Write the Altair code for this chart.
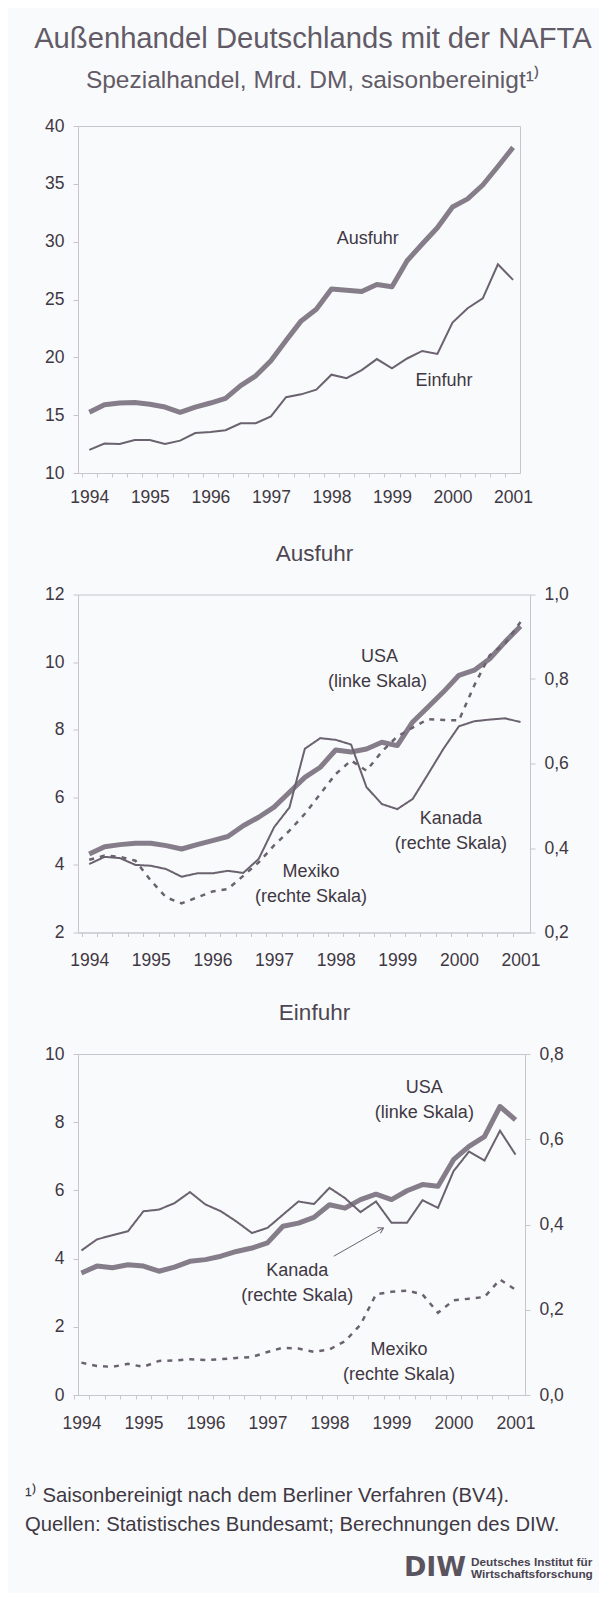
import altair as alt
import pandas as pd

# ---------------- data ----------------
# quarterly observations 1994 Q1 ... 2001 Q1 (decimal years)
quarters = [1994.0, 1994.25, 1994.5, 1994.75,
            1995.0, 1995.25, 1995.5, 1995.75,
            1996.0, 1996.25, 1996.5, 1996.75,
            1997.0, 1997.25, 1997.5, 1997.75,
            1998.0, 1998.25, 1998.5, 1998.75,
            1999.0, 1999.25, 1999.5, 1999.75,
            2000.0, 2000.25, 2000.5, 2000.75,
            2001.0]

# Panel 1: NAFTA total, Mrd. DM
nafta_ausfuhr = [15.25, 15.9, 16.05, 16.1, 15.95, 15.7, 15.25, 15.7, 16.05, 16.45,
                 17.55, 18.4, 19.7, 21.45, 23.15, 24.15, 25.9, 25.8, 25.7, 26.3,
                 26.1, 28.35, 29.8, 31.2, 33.0, 33.7, 34.9, 36.5, 38.15]
nafta_einfuhr = [12.0, 12.55, 12.5, 12.85, 12.85, 12.5, 12.8, 13.45, 13.55, 13.7,
                 14.3, 14.3, 14.9, 16.55, 16.8, 17.2, 18.5, 18.2, 18.9, 19.85,
                 19.05, 19.9, 20.55, 20.3, 23.0, 24.25, 25.1, 28.05, 26.7]

# Panel 2: Ausfuhr by country
ausfuhr_usa = [4.32, 4.54, 4.60, 4.64, 4.64, 4.57, 4.47, 4.60, 4.72, 4.84,
               5.16, 5.41, 5.71, 6.15, 6.59, 6.89, 7.40, 7.34, 7.43, 7.63,
               7.53, 8.23, 8.67, 9.12, 9.61, 9.76, 10.10, 10.60, 11.06]
ausfuhr_kanada = [0.362, 0.379, 0.376, 0.360, 0.358, 0.350, 0.332, 0.340, 0.340, 0.346,
                  0.341, 0.374, 0.449, 0.496, 0.635, 0.660, 0.656, 0.645, 0.544, 0.504,
                  0.492, 0.516, 0.575, 0.635, 0.688, 0.700, 0.704, 0.707, 0.698]
ausfuhr_mexiko = [0.372, 0.382, 0.379, 0.370, 0.323, 0.283, 0.269, 0.283, 0.297, 0.303,
                  0.334, 0.366, 0.406, 0.441, 0.481, 0.528, 0.575, 0.607, 0.583, 0.628,
                  0.664, 0.685, 0.705, 0.703, 0.702, 0.785, 0.856, 0.884, 0.935]

# Panel 3: Einfuhr by country
einfuhr_usa = [3.58, 3.78, 3.73, 3.82, 3.78, 3.63, 3.75, 3.92, 3.97, 4.07,
               4.21, 4.31, 4.46, 4.95, 5.04, 5.21, 5.58, 5.48, 5.73, 5.89,
               5.73, 5.99, 6.17, 6.12, 6.90, 7.29, 7.58, 8.46, 8.07]
einfuhr_kanada = [0.339, 0.365, 0.375, 0.384, 0.431, 0.435, 0.450, 0.476, 0.447, 0.431,
                  0.407, 0.380, 0.392, 0.423, 0.454, 0.448, 0.486, 0.462, 0.429, 0.454,
                  0.404, 0.404, 0.457, 0.439, 0.525, 0.571, 0.550, 0.620, 0.564]
einfuhr_mexiko = [0.076, 0.068, 0.066, 0.073, 0.066, 0.080, 0.081, 0.084, 0.082, 0.084,
                  0.087, 0.089, 0.101, 0.111, 0.109, 0.101, 0.107, 0.126, 0.165, 0.236,
                  0.242, 0.245, 0.236, 0.193, 0.222, 0.226, 0.230, 0.271, 0.247]

# axis tick values
y1_ticks = [10, 15, 20, 25, 30, 35, 40]
y2_left_ticks = [2, 4, 6, 8, 10, 12]
y2_right_ticks = [0.2, 0.4, 0.6, 0.8, 1.0]
y3_left_ticks = [0, 2, 4, 6, 8, 10]
y3_right_ticks = [0.0, 0.2, 0.4, 0.6, 0.8]

# in-plot labels (data units of the left scale)
lab1_text = ["Ausfuhr", "Einfuhr"]
lab1_t = [1998.60, 1999.86]
lab1_v = [30.23, 17.98]

lab2_text = ["USA", "(linke Skala)", "Kanada", "(rechte Skala)", "Mexiko", "(rechte Skala)"]
lab2_t = [1998.71, 1998.68, 1999.87, 1999.87, 1997.60, 1997.60]
lab2_v = [10.15, 9.41, 5.36, 4.62, 3.78, 3.06]

lab3_text = ["USA", "(linke Skala)", "Kanada", "(rechte Skala)", "Mexiko", "(rechte Skala)"]
lab3_t = [1999.53, 1999.53, 1997.48, 1997.48, 1999.12, 1999.12]
lab3_v = [9.00, 8.26, 3.63, 2.90, 1.33, 0.60]

arrow3_t, arrow3_v, arrow3_t2, arrow3_v2 = [1998.07], [4.07], [1998.87], [4.90]

title_text = "Außenhandel Deutschlands mit der NAFTA"
subtitle_text = "Spezialhandel, Mrd. DM, saisonbereinigt¹⁾"
footnotes = ["¹⁾ Saisonbereinigt nach dem Berliner Verfahren (BV4).",
             "Quellen: Statistisches Bundesamt; Berechnungen des DIW."]
foot_x = [-53, -53]
foot_y = [-20.5, 8.5]
logo_text = ["DIW"]
logo_x = [357]
logo_y = [51]
logo_name = ["Deutsches Institut für", "Wirtschaftsforschung"]
logo_name_x = [393, 393]
logo_name_y = [45.5, 57.75]

# ---------------- style ----------------
FONT = "Liberation Sans"
TEXT = "#3f3844"
TITLE = "#625b67"
FRAME = "#c8c5cb"
THICK = "#857d89"
THIN = "#6b6270"
BG = "#f9fafb"


def series(values):
    return pd.DataFrame({"t": quarters, "v": values})


def xenc(domain, step, pad):
    return alt.X("t:Q", title=None,
                 scale=alt.Scale(domain=domain, nice=False, zero=False),
                 axis=alt.Axis(values=quarters,
                               labelExpr="datum.value % 1 == 0 ? format(datum.value, 'd') : ''",
                               tickOffset=-step / 2, labelOffset=step / 2,
                               tickSize=4, tickColor=FRAME, domainColor=FRAME,
                               labelPadding=pad, labelOverlap=False,
                               labelFontSize=17.5, labelColor=TEXT, labelFont=FONT,
                               grid=False))


def yenc(domain, ticks, orient, comma=False):
    kw = dict(values=ticks, orient=orient, tickSize=5, tickColor=FRAME,
              domainColor=FRAME, labelPadding=9, labelFontSize=17.5,
              labelColor=TEXT, labelFont=FONT, grid=False)
    if comma:
        kw["labelExpr"] = "replace(format(datum.value, '.1f'), '.', ',')"
    return alt.Y("v:Q", title=None,
                 scale=alt.Scale(domain=domain, nice=False, zero=False),
                 axis=alt.Axis(**kw))


def labels(texts, ts, vs, X, Y):
    df = pd.DataFrame({"label": texts, "t": ts, "v": vs})
    return alt.Chart(df).mark_text(font=FONT, fontSize=18, color=TEXT,
                                   align="center", baseline="middle").encode(
        x=X, y=Y, text="label:N")


def panel_title(text, dx):
    return alt.TitleParams(text, font=FONT, fontSize=22.5, fontWeight="normal",
                           color="#4d4652", anchor="middle", offset=20.5, dx=dx)


# ---------------- panel 1 ----------------
X1 = xenc([1993.813, 2001.115], 15.13, 11)
Y1 = yenc([10, 40], y1_ticks, "left")
p1 = alt.layer(
    alt.Chart(series(nafta_ausfuhr)).mark_line(color=THICK, strokeWidth=5, strokeJoin="round").encode(x=X1, y=Y1),
    alt.Chart(series(nafta_einfuhr)).mark_line(color=THIN, strokeWidth=2).encode(x=X1, y=Y1),
    labels(lab1_text, lab1_t, lab1_v, X1, Y1),
).properties(width=442, height=347)

# ---------------- panel 2 ----------------
X2 = xenc([1993.818, 2001.154], 15.40, 15)
Y2L = yenc([2, 12], y2_left_ticks, "left")
Y2R = yenc([0.2, 1.0], y2_right_ticks, "right", comma=True)
right2 = pd.concat([series(ausfuhr_kanada).assign(s="Kanada"),
                    series(ausfuhr_mexiko).assign(s="Mexiko")])
DASH = alt.StrokeDash("s:N", legend=None,
                      scale=alt.Scale(domain=["Kanada", "Mexiko"], range=[[1, 0], [5, 6]]))
WID = alt.StrokeWidth("s:N", legend=None,
                      scale=alt.Scale(domain=["Kanada", "Mexiko"], range=[2, 2.5]))
p2 = alt.layer(
    alt.layer(
        alt.Chart(series(ausfuhr_usa)).mark_line(color=THICK, strokeWidth=5, strokeJoin="round").encode(x=X2, y=Y2L),
        labels(lab2_text, lab2_t, lab2_v, X2, Y2L),
    ),
    alt.Chart(right2).mark_line(color=THIN).encode(x=X2, y=Y2R, strokeDash=DASH, strokeWidth=WID),
).resolve_scale(y="independent").properties(width=452, height=338, title=panel_title("Ausfuhr", 10.5))

# ---------------- panel 3 ----------------
X3 = xenc([1993.945, 2001.153], 15.50, 15)
Y3L = yenc([0, 10], y3_left_ticks, "left")
Y3R = yenc([0, 0.8], y3_right_ticks, "right", comma=True)
right3 = pd.concat([series(einfuhr_kanada).assign(s="Kanada"),
                    series(einfuhr_mexiko).assign(s="Mexiko")])
arrow_df = pd.DataFrame({"t": arrow3_t, "v": arrow3_v, "t2": arrow3_t2, "v2": arrow3_v2})
head_df = pd.DataFrame({"t": arrow3_t2, "v": arrow3_v2})
p3 = alt.layer(
    alt.layer(
        alt.Chart(series(einfuhr_usa)).mark_line(color=THICK, strokeWidth=5, strokeJoin="round").encode(x=X3, y=Y3L),
        labels(lab3_text, lab3_t, lab3_v, X3, Y3L),
        alt.Chart(arrow_df).mark_rule(color=THIN, strokeWidth=1).encode(x=X3, y=Y3L, x2="t2:Q", y2="v2:Q"),
        alt.Chart(head_df).mark_point(shape="M-1,-0.6L0,0L-1,0.6", filled=False, color=THIN,
                                      strokeWidth=1, size=110, angle=330, opacity=1).encode(x=X3, y=Y3L),
    ),
    alt.Chart(right3).mark_line(color=THIN).encode(x=X3, y=Y3R, strokeDash=DASH, strokeWidth=WID),
).resolve_scale(y="independent").properties(width=447, height=341, title=panel_title("Einfuhr", 13))

# ---------------- footer ----------------
FX = alt.X("x:Q", axis=None, scale=alt.Scale(domain=[0, 452], nice=False, zero=False))
FY = alt.Y("y:Q", axis=None, scale=alt.Scale(domain=[0, 74], nice=False, zero=False, reverse=True))
foot = alt.layer(
    alt.Chart(pd.DataFrame({"x": foot_x, "y": foot_y, "txt": footnotes})).mark_text(
        font=FONT, fontSize=20.3, color=TEXT, align="left", baseline="middle").encode(x=FX, y=FY, text="txt:N"),
    alt.Chart(pd.DataFrame({"x": logo_x, "y": logo_y, "txt": logo_text})).mark_text(
        font="DejaVu Sans", fontSize=27, fontWeight="bold", color="#5a5360", align="center",
        baseline="middle").encode(x=FX, y=FY, text="txt:N"),
    alt.Chart(pd.DataFrame({"x": logo_name_x, "y": logo_name_y, "txt": logo_name})).mark_text(
        font=FONT, fontSize=11.8, fontWeight="bold", color="#4a4350", align="left",
        baseline="middle").encode(x=FX, y=FY, text="txt:N"),
).properties(width=452, height=74, view=alt.ViewBackground(stroke="transparent"))

chart = alt.vconcat(p1, p2, p3, foot, spacing=121.5, bounds="flush").properties(
    title=alt.TitleParams(title_text, subtitle=subtitle_text, font=FONT, fontSize=29.2,
                          fontWeight="normal", color=TITLE, subtitleFont=FONT,
                          subtitleFontSize=24.5, subtitleColor=TITLE, subtitlePadding=15,
                          anchor="middle", offset=24, dx=4),
    padding={"left": 16, "top": 16, "right": 5, "bottom": 2},
).configure(background=BG, font=FONT).configure_view(stroke=FRAME, strokeWidth=1)

chart.save("out.html", embed_options={"renderer": "svg", "actions": False})
